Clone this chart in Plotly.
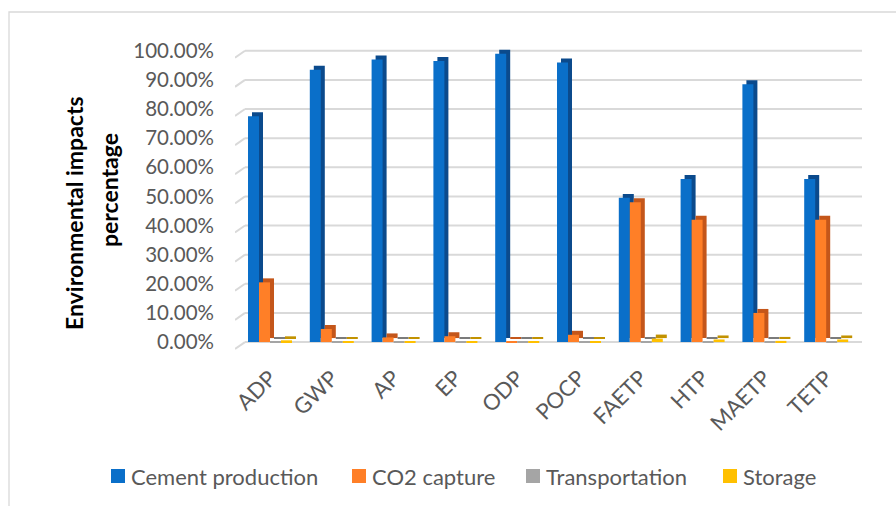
import plotly.graph_objects as go

# ---- data -------------------------------------------------------------
categories = ["ADP", "GWP", "AP", "EP", "ODP", "POCP", "FAETP", "HTP", "MAETP", "TETP"]
cement_production = [0.775, 0.935, 0.97, 0.965, 0.99, 0.96, 0.495, 0.56, 0.885, 0.56]
co2_capture = [0.205, 0.045, 0.016, 0.02, 0.002, 0.025, 0.48, 0.42, 0.10, 0.42]
transportation = [0.001, 0.001, 0.001, 0.001, 0.001, 0.001, 0.001, 0.001, 0.001, 0.001]
storage = [0.006, 0.002, 0.002, 0.002, 0.002, 0.002, 0.012, 0.009, 0.004, 0.009]
series_names = ["Cement production", "CO2 capture", "Transportation", "Storage"]
y_ticks = [0.0, 0.1, 0.2, 0.3, 0.4, 0.5, 0.6, 0.7, 0.8, 0.9, 1.0]

series_values = [cement_production, co2_capture, transportation, storage]
front_colors = ["#0A6FC9", "#FF7F27", "#A5A5A5", "#FFC000"]
side_colors = ["#0B4A8C", "#C4561A", "#7B7B7B", "#C29200"]

# ---- geometry (pixels) ------------------------------------------------
W, H = 896, 506
PL, PR = 235, 862          # plot area left / right
PT, Y0PX = 49, 342         # pixel rows of 100% and 0%
PX_PER_UNIT_Y = (Y0PX - PT)  # pixels per 1.0 on the y axis
UNIT_X = 61.8              # pixels per category
C0 = 270                   # pixel centre of the first category
Y_LOW = -10 / PX_PER_UNIT_Y
Y_HIGH = 1.006
PB = Y0PX + 10

x_range = [(PL - C0) / UNIT_X, (PR - C0) / UNIT_X]
bar_w = 11 / UNIT_X
depth_x = 4 / UNIT_X
depth_y = 4 / PX_PER_UNIT_Y

FONT = "Lato"
TXT = "#595959"

fig = go.Figure()

# each series: a darker extruded block behind, then the front face
for k, (name, vals) in enumerate(zip(series_names, series_values)):
    off = -2 * bar_w + k * bar_w
    fig.add_trace(go.Bar(
        x=categories, y=vals, base=depth_y,
        offset=off + depth_x, width=bar_w,
        marker=dict(color=side_colors[k], line=dict(width=0)),
        showlegend=False, hoverinfo="skip",
    ))
    fig.add_trace(go.Bar(
        x=categories, y=vals, name=name,
        offset=off, width=bar_w,
        marker=dict(color=front_colors[k], line=dict(width=0)),
        showlegend=False,
    ))

# back-wall gridlines with a short slanted floor edge on the left
shapes = []
stub_dx = 10 / UNIT_X
stub_dy = 7 / PX_PER_UNIT_Y
for t in y_ticks:
    shapes.append(dict(type="line", xref="x", yref="y", layer="below",
                       x0=x_range[0] + stub_dx, x1=x_range[1], y0=t, y1=t,
                       line=dict(color="#D9D9D9", width=2)))
    shapes.append(dict(type="line", xref="x", yref="y", layer="below",
                       x0=x_range[0], x1=x_range[0] + stub_dx, y0=t - stub_dy, y1=t,
                       line=dict(color="#D9D9D9", width=2)))

# pixel -> paper helpers
pw = PR - PL
ph = PB - PT
def px_x(p):
    return (p - PL) / pw
def px_y(p):
    return (PB - p) / ph

# outer chart frame
shapes.append(dict(type="rect", xref="paper", yref="paper",
                   x0=px_x(9), x1=px_x(W + 20), y0=px_y(H + 20), y1=px_y(12),
                   line=dict(color="#D9D9D9", width=1.3), fillcolor="rgba(0,0,0,0)"))

annotations = [
    dict(text="<b>Environmental impacts</b>", textangle=-90, xref="paper", yref="paper",
         x=px_x(74), y=px_y(213), xanchor="center", yanchor="middle", showarrow=False,
         font=dict(family=FONT, size=23, color="#000000")),
    dict(text="<b>percentage</b>", textangle=-90, xref="paper", yref="paper",
         x=px_x(109), y=px_y(190), xanchor="center", yanchor="middle", showarrow=False,
         font=dict(family=FONT, size=23, color="#000000")),
]

# legend row along the bottom: colour key square followed by the series name
legend_left = [111, 352, 526, 723]
LEG_Y = 476
SQ = 14
for k, name in enumerate(series_names):
    x0 = legend_left[k]
    shapes.append(dict(type="rect", xref="paper", yref="paper",
                       x0=px_x(x0), x1=px_x(x0 + SQ),
                       y0=px_y(LEG_Y + SQ / 2), y1=px_y(LEG_Y - SQ / 2),
                       line=dict(width=0), fillcolor=front_colors[k]))
    annotations.append(dict(text=name, xref="paper", yref="paper",
                            x=px_x(x0 + SQ + 4), y=px_y(LEG_Y),
                            xanchor="left", yanchor="middle", showarrow=False,
                            font=dict(family=FONT, size=22, color=TXT)))

fig.update_layout(
    width=W, height=H,
    margin=dict(l=PL, r=W - PR, t=PT, b=H - PB, pad=0),
    paper_bgcolor="white", plot_bgcolor="white",
    barmode="overlay",
    showlegend=False,
    font=dict(family=FONT, size=20, color=TXT),
    xaxis=dict(type="category", range=x_range, showgrid=False, zeroline=False,
               showline=False, ticks="", tickangle=-45,
               tickfont=dict(family=FONT, size=22, color=TXT),
               ticklabelstandoff=8),
    yaxis=dict(range=[Y_LOW, Y_HIGH], tickvals=y_ticks, tickformat=".2%",
               showgrid=False, zeroline=False, showline=False, ticks="",
               tickfont=dict(family=FONT, size=20.5, color=TXT),
               ticklabelstandoff=20),
    shapes=shapes,
    annotations=annotations,
)

fig.write_html("out.html")
